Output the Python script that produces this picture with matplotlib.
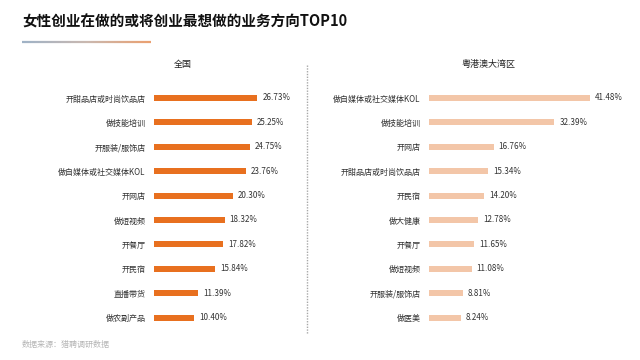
import numpy as np
import matplotlib.pyplot as plt
from matplotlib.collections import LineCollection
from matplotlib.colors import LinearSegmentedColormap
from matplotlib.lines import Line2D

plt.rcParams['font.family'] = ['Noto Sans CJK SC', 'DejaVu Sans']

# 数据
cats_qg = ["开甜品店或时尚饮品店", "做技能培训", "开服装/服饰店", "做自媒体或社交媒体KOL", "开网店",
           "做短视频", "开餐厅", "开民宿", "直播带货", "做农副产品"]
vals_qg = [26.73, 25.25, 24.75, 23.76, 20.30, 18.32, 17.82, 15.84, 11.39, 10.40]

cats_wq = ["做自媒体或社交媒体KOL", "做技能培训", "开网店", "开甜品店或时尚饮品店", "开民宿",
           "做大健康", "开餐厅", "做短视频", "开服装/服饰店", "做医美"]
vals_wq = [41.48, 32.39, 16.76, 15.34, 14.20, 12.78, 11.65, 11.08, 8.81, 8.24]

W, H = 640, 360
fig = plt.figure(figsize=(6.4, 3.6), dpi=100)
fig.patch.set_facecolor("white")

# 标题
fig.text(22 / W, 1 - 22 / H, "女性创业在做的或将创业最想做的业务方向TOP10",
         fontsize=10.5, fontweight="bold", color="#111111", va="center", ha="left")

# 渐变下划线
n = 60
xs = np.linspace(22 / W, 151 / W, n + 1)
segs = [[(xs[i], 1 - 42 / H), (xs[i + 1], 1 - 42 / H)] for i in range(n)]
cmap = LinearSegmentedColormap.from_list("ul", ["#9fb2c6", "#c9b8b0", "#eaa070"])
lc = LineCollection(segs, colors=cmap(np.linspace(0, 1, n)), linewidths=1.6,
                    transform=fig.transFigure)
fig.add_artist(lc)

# 分隔虚线
fig.add_artist(Line2D([307 / W, 307 / W], [1 - 65 / H, 1 - 334 / H], transform=fig.transFigure,
                      color="#a8a8a8", linewidth=1.0, linestyle=(0, (1, 1))))


def panel(left_px, cats, vals, color, title, title_x):
    step = 24.4
    top = 98 - step / 2
    ax = fig.add_axes([left_px / W, 1 - (top + 10 * step) / H, 180 / W, 10 * step / H])
    y = np.arange(len(cats))
    ax.barh(y, vals, height=0.25, color=color)
    ax.set_xlim(0, 180 / 3.87)
    ax.set_ylim(len(cats) - 0.5, -0.5)
    ax.set_yticks(y)
    ax.set_yticklabels(cats, fontsize=5.8, color="#333333")
    ax.tick_params(axis="y", length=0, pad=6)
    ax.set_xticks([])
    for s in ax.spines.values():
        s.set_visible(False)
    ax.patch.set_alpha(0)
    for yi, v in zip(y, vals):
        ax.annotate(f"{v:.2f}%", (v, yi), xytext=(3.5, 0), textcoords="offset points",
                    va="center", ha="left", fontsize=5.8, color="#333333")
    fig.text(title_x / W, 1 - 64 / H, title, fontsize=6.5, color="#222222",
             ha="center", va="center")
    return ax


panel(154, cats_qg, vals_qg, "#e8701f", "全国", 183)
panel(429, cats_wq, vals_wq, "#f3c6a8", "粤港澳大湾区", 488)

# 数据来源
fig.text(22 / W, 1 - 344 / H, "数据来源：猎聘调研数据", fontsize=5.8, color="#b5b5b5",
         ha="left", va="center")

fig.savefig("out.png", dpi=100)
